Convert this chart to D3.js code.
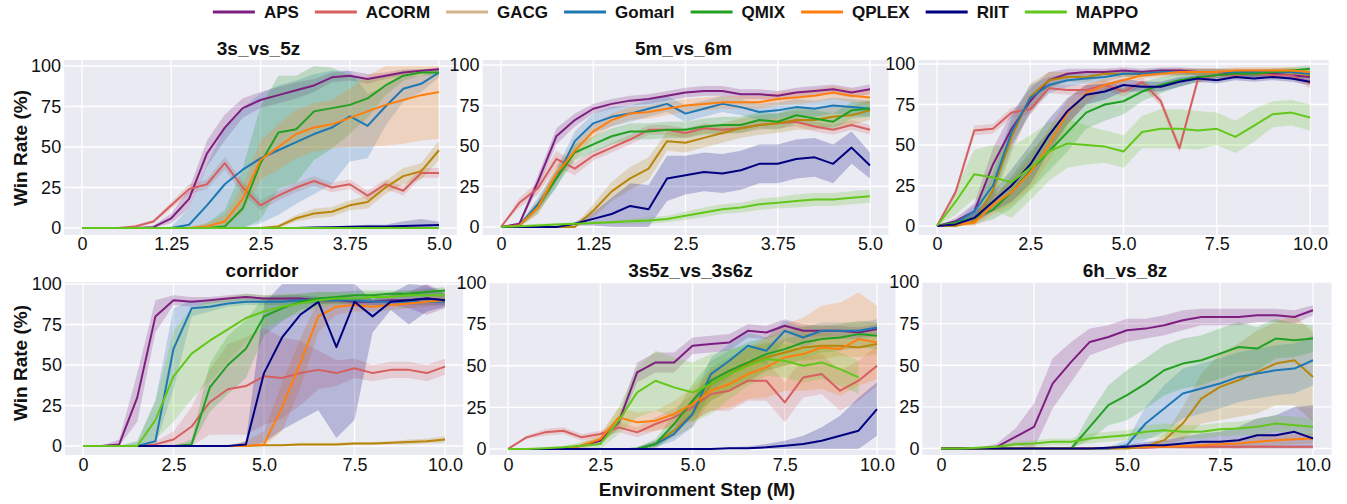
<!DOCTYPE html>
<meta charset="utf-8">
<script src="https://d3js.org/d3.v7.min.js"></script>
<body style="margin:0;background:#fff">
<svg width="1347" height="504"></svg>
<script>
// ---------- data ----------
var methods = ["APS", "ACORM", "GACG", "Gomarl", "QMIX", "QPLEX", "RIIT", "MAPPO"];
var colors = ["#7e1e80", "#d65f5f", "#b8860b", "#1f77b4", "#22a022", "#ff7f0e", "#000080", "#63c61b"];
var legendColors = ["#7e1e80", "#d65f5f", "#d2b48c", "#1f77b4", "#22a022", "#ff7f0e", "#000080", "#63c61b"];

var steps5M = [0,0.25,0.5,0.75,1,1.25,1.5,1.75,2,2.25,2.5,2.75,3,3.25,3.5,3.75,4,4.25,4.5,4.75,5];
var steps10M = [0,0.5,1,1.5,2,2.5,3,3.5,4,4.5,5,5.5,6,6.5,7,7.5,8,8.5,9,9.5,10];
var xTicks5M = [0, 1.25, 2.5, 3.75, 5];
var xLabels5M = ["0", "1.25", "2.5", "3.75", "5.0"];
var xTicks10M = [0, 2.5, 5, 7.5, 10];
var xLabels10M = ["0", "2.5", "5.0", "7.5", "10.0"];
var yTicks = [0, 25, 50, 75, 100];

// rows follow the order of `methods`
var mean_3s_vs_5z = [
  [0,0,0,0,0.5,6,18,46,62,74,79,82,85,88,93,94,92,94,96,97,98],
  [0,0,0,1,4,14,24,27,40,25,14,20,25,29,25,27,20,27,23,34,34],
  [0,0,0,0,0,0,0,0,0,0,0,1,6,9,10,14,16,25,32,35,48],
  [0,0,0,0,0,0,2,14,27,36,43,48,53,58,62,69,63,75,86,89,96],
  [0,0,0,0,0,0,0,0,1,12,40,59,61,72,74,76,80,88,94,96,96],
  [0,0,0,0,0,0,0,1,4,18,42,50,58,62,64,68,72,76,79,82,84],
  [0,0,0,0,0,0,0,0,0,0,0,0,0,0.3,0.5,0.8,1,1,1.2,1.5,1.8],
  [0,0,0,0,0,0,0,0,0,0,0,0,0,0,0,0,0,0,0,0,0]
];
var sd_3s_vs_5z = [
  [0,0,0,0,1,3,6,8,8,6,5,5,5,4,3,3,3,2,2,1,1],
  [0,0,0,1,1,2,3,3,4,4,3,3,3,3,3,3,3,3,3,3,3],
  [0,0,0,0,0,0,0,0,0,0,0,1,2,3,3,3,4,4,5,5,6],
  [0,0,0,0,0,1,10,25,35,38,40,40,38,37,35,28,20,12,8,5,3],
  [0,0,0,0,0,0,0,3,10,25,35,35,33,30,25,18,12,6,3,2,2],
  [0,0,0,0,0,0,1,2,4,8,12,14,15,15,15,18,22,25,27,28,29],
  [0,0,0,0,0,0,0,0,0,0,0,0,0,0.5,0.5,0.5,1,1,3,4,2],
  [0,0,0,0,0,0,0,0,0,0,0,0,0,0,0,0,0,0,0,0,0]
];

var mean_5m_vs_6m = [
  [0,2,28,56,66,73,76,78,79,81,83,84,84,82,82,81,83,84,85,83,85],
  [0,15,24,42,36,44,49,54,60,60,58,61,60,61,63,64,65,62,60,63,60],
  [0,0,0,0,0,10,22,30,36,53,52,55,58,61,63,64,66,66,68,69,72],
  [0,1,14,30,53,64,68,70,73,76,70,73,76,74,71,72,74,73,75,74,73],
  [0,1,12,30,46,51,56,59,59,60,60,62,63,63,66,65,69,67,65,72,73],
  [0,1,12,33,47,59,66,70,71,73,75,76,77,77,77,79,80,81,83,81,80],
  [0,0,0,0,2,5,8,13,11,30,32,34,33,35,39,39,42,43,39,49,38],
  [0,0.5,1,1.5,2,2.5,3,3.5,4,5,7,9,11,12,14,15,16,17,17,18,19]
];
var sd_5m_vs_6m = [
  [0,1,4,5,4,3,3,3,3,3,3,3,3,3,3,3,3,3,3,3,3],
  [0,3,4,5,4,3,3,3,3,3,3,3,3,3,3,3,3,3,3,3,3],
  [0,0,0,0,1,4,6,7,7,6,6,6,6,6,6,6,6,6,6,6,6],
  [0,1,4,6,6,6,6,5,5,5,5,5,5,5,5,5,5,5,5,5,5],
  [0,1,4,5,5,5,5,5,5,5,5,5,5,5,5,5,5,5,5,5,5],
  [0,1,4,5,5,4,4,4,4,4,4,4,4,4,4,4,4,4,4,4,4],
  [0,0,0,0,1,4,10,14,15,14,12,12,12,12,12,12,12,12,12,10,8],
  [0,0.5,1,1,1,1,1,1.5,2,2,2.5,3,3,3,3.5,3.5,4,4,4,4,4]
];

var mean_MMM2 = [
  [0,3,9,38,60,77,90,94,95,95,96,95,96,96,95,95,94,94,94,93,92],
  [0,21,59,60,70,72,85,84,84,87,83,89,77,48,91,93,93,94,93,93,88],
  [0,0,3,22,55,80,90,92,92,94,94,94,95,95,95,95,95,95,95,95,93],
  [0,2,9,25,58,79,87,90,91,92,94,94,95,95,95,95,95,95,95,95,94],
  [0,2,5,10,21,34,46,58,70,75,77,83,87,90,92,93,94,94,95,96,97],
  [0,1,2,13,21,33,50,70,82,87,90,93,94,95,95,95,96,96,96,96,95],
  [0,1,5,15,25,38,56,71,81,83,87,86,86,89,91,90,92,91,92,91,89],
  [0,15,32,30,27,36,46,51,50,49,46,58,60,60,59,60,55,62,69,70,67]
];
var sd_MMM2 = [
  [0,2,5,10,10,8,5,3,2,2,2,2,2,2,2,2,2,2,2,2,2],
  [0,2,3,3,3,3,3,3,3,3,3,3,3,3,3,2,2,2,2,2,3],
  [0,0,2,8,10,8,5,3,3,2,2,2,2,2,2,2,2,2,2,2,2],
  [0,1,4,8,10,8,5,4,3,3,2,2,2,2,2,2,2,2,2,2,2],
  [0,2,4,6,10,12,12,12,10,10,8,6,5,4,3,2,2,2,2,2,2],
  [0,1,2,6,8,10,10,8,6,4,3,2,2,2,2,2,2,2,2,2,2],
  [0,1,3,6,10,12,10,8,6,5,4,3,3,3,2,2,2,2,2,2,2],
  [0,8,15,20,22,20,18,15,12,10,10,10,12,12,12,10,10,10,8,8,8]
];

var mean_corridor = [
  [0,0,1,30,80,90,89,90,91,92,91,91,91,90,90,89,89,90,90,91,90],
  [0,0,0,0,1,4,12,27,35,37,43,42,45,47,45,48,45,47,47,45,49],
  [0,0,0,0,0,0,0,0,0,0,0.5,0.5,1,1,1,1.5,1.5,2,2.5,3,4],
  [0,0,0,0,3,60,85,86,88,89,89,89,90,90,90,90,89,89,89,89,89],
  [0,0,0,0,0,0,1,36,50,60,80,85,89,91,92,93,93,94,94,95,96],
  [0,0,0,0,0,0,0,0,0,0,1,24,51,80,86,87,86,87,88,89,90],
  [0,0,0,0,0,0,0,0,0,1,45,67,81,89,61,89,80,89,90,91,90],
  [0,0,0,0,16,43,57,65,72,79,83,86,88,90,91,91,92,92,93,93,93]
];
var sd_corridor = [
  [0,0,3,15,10,3,3,2,2,2,2,2,2,2,2,2,2,3,5,10,5],
  [0,0,0,0,2,5,12,20,28,30,30,25,20,12,8,6,5,5,5,5,5],
  [0,0,0,0,0,0,0,0,0,0,0.5,0.5,1,1,1,1,1,1,1.5,1.5,2],
  [0,0,0,3,25,25,5,3,2,2,2,2,2,2,2,2,2,2,2,2,2],
  [0,0,0,0,0,0,3,15,18,18,12,8,5,4,3,3,3,2,2,2,2],
  [0,0,0,0,0,0,0,0,0,3,8,15,15,10,5,4,3,3,3,3,3],
  [0,0,0,0,0,0,0,0,0,2,43,57,65,67,56,73,10,5,15,8,4],
  [0,0,0,3,12,28,28,25,20,15,10,8,6,5,4,3,3,3,3,3,3]
];

var mean_3s5z_vs_3s6z = [
  [0,0,0,0,2,5,16,46,52,52,62,63,64,71,70,74,71,71,71,70,72],
  [0,7,10,11,7,9,13,10,15,19,25,33,35,41,41,28,43,45,35,41,50],
  [0,0,0,0,0,0,0,0,3,11,21,39,45,51,55,58,61,62,62,61,63],
  [0,0,0,0,0,0,0,0,3,9,21,45,53,62,59,71,67,71,71,71,73],
  [0,0,0,0,0,0,0,0,3,15,29,41,47,52,57,60,64,66,67,69,68],
  [0,0,0,0,2,6,19,16,17,21,27,35,39,45,49,55,57,61,60,66,64],
  [0,0,0,0,0,0,0,0,0,0,0,0,0.5,0.5,1,2,3,5,8,11,24],
  [0,0,0.5,1,2,3,17,34,41,37,34,39,45,50,54,53,50,52,48,43,null]
];
var sd_3s5z_vs_3s6z = [
  [0,0,0,0,1,2,4,6,6,6,5,5,5,4,4,4,4,3,3,3,3],
  [0,1,2,2,2,2,3,3,4,5,8,10,12,12,12,12,12,12,12,12,12],
  [0,0,0,0,0,0,0,1,2,4,8,10,10,10,8,8,8,8,6,6,6],
  [0,0,0,0,0,0,0,1,2,4,8,10,10,8,8,6,6,5,5,5,5],
  [0,0,0,0,0,0,0,1,3,6,10,12,12,12,10,10,10,8,8,8,8],
  [0,0,0,0,2,3,6,6,6,8,10,12,14,15,18,20,22,25,28,28,22],
  [0,0,0,0,0,0,0,0,0,0,0,0,0.5,1,2,3,5,8,12,20,16],
  [0,0,0.5,1,2,4,8,15,18,18,18,18,15,12,10,10,10,10,10,10,null]
];

var mean_6h_vs_8z = [
  [0,0,0,1,7,13,39,52,64,67,71,72,74,77,79,79,79,80,80,79,83],
  [0,0,0,0,0,0,0,0,0,0,0.5,0.5,1,1,1,1,1,1,1,1,1],
  [0,0,0,0,0,0,0,0,0,0,0,1,5,15,30,37,41,46,51,53,43],
  [0,0,0,0,0,0,0,0,0,0,2,15,24,33,36,39,43,45,47,48,53],
  [0,0,0,0,0,0,0,0,13,26,32,39,47,51,53,57,61,60,66,65,66],
  [0,0,0,0,0,0,0,0,0,0.5,1,1,1,1.5,2,2.5,3,4,5,5.5,6],
  [0,0,0,0,0,0,0,0,0,0.5,1,2,2,3,4,4,5,8,8,10,6],
  [0,0,0.5,1,2.5,3,4,4,6,7,8,10,11,10,10,11.5,12,13,15,14,13]
];
var sd_6h_vs_8z = [
  [0,0,0,2,5,14,15,12,8,7,7,6,6,6,5,5,5,4,4,4,3],
  [0,0,0,0,0,0,0,0,0,0,0.5,0.5,0.5,1,1,1,1,1,1,1,1],
  [0,0,0,0,0,0,0,0,0,0,0,1,3,10,15,20,22,25,25,27,27],
  [0,0,0,0,0,0,0,0,0,1,3,10,14,15,15,15,15,15,15,15,15],
  [0,0,0,0,0,0,0,1,8,12,15,15,15,15,15,15,15,13,12,10,8],
  [0,0,0,0,0,0,0,0,0,0.5,1,1,1,1.5,2,2,3,3,3,3,3],
  [0,0,0,0,0,0,0,0,0,0.5,1,2,3,4,5,6,8,10,12,15,20],
  [0,0,0.5,1,1.5,2,2,2,3,3,3,4,4,4,4,4,4,5,5,5,5]
];

// ---------- layout ----------
var FONT = "'Liberation Sans', Arial, Helvetica, sans-serif";
var svg = d3.select("svg");

var panels = [
  {title: "3s_vs_5z", steps: steps5M, mean: mean_3s_vs_5z, sd: sd_3s_vs_5z, ticks: xTicks5M, labels: xLabels5M,
   xr: [82, 439], yr: [228, 66], fr: [60, 235], pad: 2},
  {title: "5m_vs_6m", steps: steps5M, mean: mean_5m_vs_6m, sd: sd_5m_vs_6m, ticks: xTicks5M, labels: xLabels5M,
   xr: [501, 870], yr: [227, 65], fr: [60, 235], pad: 2},
  {title: "MMM2", steps: steps10M, mean: mean_MMM2, sd: sd_MMM2, ticks: xTicks10M, labels: xLabels10M,
   xr: [937, 1310], yr: [226, 64], fr: [60, 235], pad: 2},
  {title: "corridor", steps: steps10M, mean: mean_corridor, sd: sd_corridor, ticks: xTicks10M, labels: xLabels10M,
   xr: [83, 445], yr: [446, 284], fr: [282, 455], pad: 3},
  {title: "3s5z_vs_3s6z", steps: steps10M, mean: mean_3s5z_vs_3s6z, sd: sd_3s5z_vs_3s6z, ticks: xTicks10M, labels: xLabels10M,
   xr: [508, 877], yr: [449, 282.5], fr: [282, 455], pad: 3},
  {title: "6h_vs_8z", steps: steps10M, mean: mean_6h_vs_8z, sd: sd_6h_vs_8z, ticks: xTicks10M, labels: xLabels10M,
   xr: [941, 1313], yr: [448.5, 282], fr: [282, 455], pad: 3}
];

panels.forEach(function(p, i) {
  var xmax = p.steps[p.steps.length - 1];
  var x = d3.scaleLinear().domain([0, xmax]).range(p.xr);
  var y = d3.scaleLinear().domain([0, 100]).range(p.yr);
  var left = x(-0.05 * xmax), right = x(1.05 * xmax);
  var top = p.fr[0], bottom = p.fr[1];
  var g = svg.append("g");

  g.append("rect").attr("x", left).attr("y", top)
    .attr("width", right - left).attr("height", bottom - top).attr("fill", "#eaeaf2");

  g.selectAll("line.vg").data(p.ticks).join("line").attr("class", "vg")
    .attr("x1", d => x(d)).attr("x2", d => x(d)).attr("y1", top).attr("y2", bottom)
    .attr("stroke", "#fff").attr("stroke-width", 1.3);
  g.selectAll("line.hg").data(yTicks).join("line").attr("class", "hg")
    .attr("x1", left).attr("x2", right).attr("y1", d => y(d)).attr("y2", d => y(d))
    .attr("stroke", "#fff").attr("stroke-width", 1.3);

  var cid = "clip" + i;
  g.append("clipPath").attr("id", cid).append("rect")
    .attr("x", left).attr("y", top).attr("width", right - left).attr("height", bottom - top);
  var plot = g.append("g").attr("clip-path", "url(#" + cid + ")");

  var series = methods.map(function(m, k) {
    return p.steps.map(function(s, j) { return {x: s, m: p.mean[k][j], s: p.sd[k][j]}; });
  });

  var area = d3.area()
    .defined(d => d.m != null)
    .x(d => x(d.x))
    .y0(d => y(Math.max(0, d.m - d.s)))
    .y1(d => y(Math.min(100, d.m + d.s)));
  var line = d3.line()
    .defined(d => d.m != null)
    .x(d => x(d.x))
    .y(d => y(d.m));

  plot.selectAll("path.band").data(series).join("path").attr("class", "band")
    .attr("d", area).attr("fill", (d, k) => colors[k]).attr("fill-opacity", 0.22).attr("stroke", "none");
  plot.selectAll("path.mean").data(series).join("path").attr("class", "mean")
    .attr("d", line).attr("fill", "none").attr("stroke", (d, k) => colors[k])
    .attr("stroke-width", 2).attr("stroke-linejoin", "round");

  g.append("g").attr("transform", "translate(0," + bottom + ")")
    .call(d3.axisBottom(x).tickValues(p.ticks).tickFormat((d, j) => p.labels[j]).tickSize(0).tickPadding(p.pad))
    .call(a => {
      a.select(".domain").remove();
      a.selectAll("text").attr("font-size", 18).attr("font-family", FONT).attr("fill", "#111");
    });
  g.append("g").attr("transform", "translate(" + left + ",0)")
    .call(d3.axisLeft(y).tickValues(yTicks).tickSize(0).tickPadding(3))
    .call(a => {
      a.select(".domain").remove();
      a.selectAll("text").attr("font-size", 18).attr("font-family", FONT).attr("fill", "#111");
    });

  g.append("text").attr("x", (left + right) / 2 - 2).attr("y", top - 5)
    .attr("text-anchor", "middle").attr("font-family", FONT).attr("font-weight", "bold")
    .attr("font-size", 19).attr("fill", "#111").text(p.title);
});

// axis labels
[148, 363].forEach(function(cy) {
  svg.append("text").attr("transform", "translate(27," + cy + ") rotate(-90)")
    .attr("text-anchor", "middle").attr("font-family", FONT).attr("font-weight", "bold")
    .attr("font-size", 19).attr("fill", "#111").text("Win Rate (%)");
});
svg.append("text").attr("x", 697).attr("y", 496)
  .attr("text-anchor", "middle").attr("font-family", FONT).attr("font-weight", "bold")
  .attr("font-size", 19).attr("fill", "#111").text("Environment Step (M)");

// legend
var lg = svg.append("g");
var items = lg.selectAll("g").data(methods).join("g");
items.append("line").attr("x1", 0).attr("x2", 42).attr("y1", 12).attr("y2", 12)
  .attr("stroke", (d, k) => legendColors[k]).attr("stroke-width", 3);
items.append("text").attr("x", 51).attr("y", 18).attr("font-family", FONT)
  .attr("font-weight", "bold").attr("font-size", 17).attr("fill", "#111").text(d => d);
var widths = [];
items.select("text").each(function() { widths.push(this.getComputedTextLength()); });
var gap = 16;
var total = d3.sum(widths) + methods.length * 51 + gap * (methods.length - 1);
var cx = 675.5 - total / 2;
items.attr("transform", function(d, k) {
  var t = "translate(" + cx + ",0)";
  cx += 51 + widths[k] + gap;
  return t;
});
</script>
